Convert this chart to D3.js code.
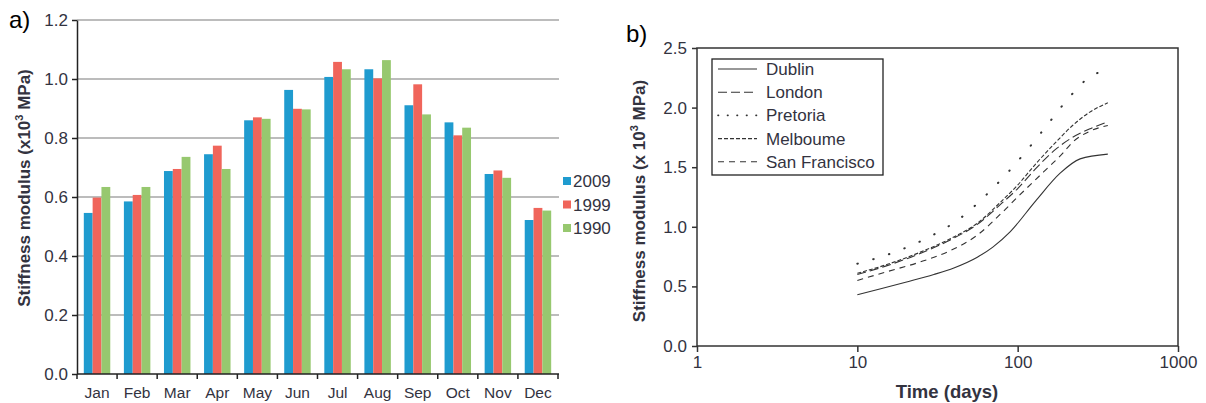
<!DOCTYPE html>
<html>
<head>
<meta charset="utf-8">
<script src="https://cdn.jsdelivr.net/npm/d3@7"></script>
<style>
  body { margin: 0; background: #fff; }
  svg text { font-family: Arial, "Liberation Sans", sans-serif; }
</style>
</head>
<body>
<svg class="chart" width="1206" height="403"></svg>
<script>
// ---- panel a data ----
const months = ["Jan", "Feb", "Mar", "Apr", "May", "Jun", "Jul", "Aug", "Sep", "Oct", "Nov", "Dec"];
const years = ["2009", "1999", "1990"];
const s2009 = [0.546, 0.585, 0.688, 0.745, 0.860, 0.963, 1.007, 1.033, 0.911, 0.853, 0.678, 0.522];
const s1999 = [0.598, 0.607, 0.695, 0.774, 0.870, 0.899, 1.058, 1.002, 0.982, 0.809, 0.690, 0.563];
const s1990 = [0.634, 0.634, 0.736, 0.695, 0.865, 0.897, 1.033, 1.064, 0.880, 0.835, 0.665, 0.554];
const yTicksA = [0, 0.2, 0.4, 0.6, 0.8, 1.0, 1.2];
const barColors = ["#1f9bcf", "#f0655b", "#97c86f"];

// ---- panel b data ----
const cities = ["Dublin", "London", "Pretoria", "Melboume", "San Francisco"];
const dublin = [[10, 0.43], [14, 0.48], [20, 0.535], [30, 0.60], [40, 0.655], [56, 0.745], [70, 0.83], [90, 0.96], [130, 1.22], [184, 1.45], [245, 1.57], [365, 1.61]];
const london = [[10, 0.60], [15, 0.67], [24, 0.77], [38, 0.89], [56, 1.02], [80, 1.20], [100, 1.32], [130, 1.49], [176, 1.66], [220, 1.75], [280, 1.82], [365, 1.88]];
const pretoria = [[10, 0.69], [16.5, 0.78], [27.6, 0.91], [43.7, 1.07], [64, 1.27], [86, 1.45], [114, 1.64], [148, 1.83], [205, 2.07], [271, 2.24], [365, 2.32]];
const melbourne = [[10, 0.61], [15, 0.68], [24, 0.78], [38, 0.90], [56, 1.03], [80, 1.22], [100, 1.35], [130, 1.53], [176, 1.72], [220, 1.85], [280, 1.96], [365, 2.04]];
const sanFrancisco = [[10, 0.55], [15, 0.62], [24, 0.70], [38, 0.80], [56, 0.93], [80, 1.12], [100, 1.25], [145, 1.46], [192, 1.62], [220, 1.71], [280, 1.80], [365, 1.85]];
const dashes = [null, "9,4", "0.5,16", "4,2", "6,5"];
const legendDashes = [null, "9,4", "0.5,9", "4,2", "6,5"];
const yTicksB = [0, 0.5, 1.0, 1.5, 2.0, 2.5];
const xTicksB = [1, 10, 100, 1000];

const svg = d3.select(".chart");
const textCol = "#33333f";
const FONT = "Arial, 'Liberation Sans', sans-serif";

// ================= panel a =================
const a = { left: 77, right: 558, top: 20, bottom: 374 };
const xA = d3.scaleBand().domain(months).range([a.left, a.right]).paddingInner(0.34).paddingOuter(0.17);
const xSub = d3.scaleBand().domain(years).range([0, xA.bandwidth()]);
const yA = d3.scaleLinear().domain([0, 1.2]).range([a.bottom, a.top]);

const gA = svg.append("g");

// gridlines
gA.selectAll("line.grid")
  .data(yTicksA.filter(d => d > 0))
  .join("line")
  .attr("x1", a.left).attr("x2", a.right + 1)
  .attr("y1", d => yA(d)).attr("y2", d => yA(d))
  .attr("stroke", "#a6a6a6").attr("stroke-width", 1.5);

// bars
const series = [s2009, s1999, s1990];
series.forEach((vals, si) => {
  gA.selectAll(null)
    .data(vals)
    .join("rect")
    .attr("x", (d, i) => xA(months[i]) + xSub(years[si]))
    .attr("y", d => yA(d))
    .attr("width", xSub.bandwidth())
    .attr("height", d => yA(0) - yA(d))
    .attr("fill", barColors[si]);
});

// y axis
const axA = gA.append("g")
  .attr("transform", `translate(${a.left},0)`)
  .call(d3.axisLeft(yA).tickValues(yTicksA).tickFormat(d3.format(".1f")).tickSize(5).tickSizeOuter(0));
axA.select(".domain").attr("stroke", "#222").attr("stroke-width", 1.5);
axA.selectAll(".tick line").attr("stroke", "#222").attr("stroke-width", 1.5);
axA.selectAll(".tick text").attr("font-size", 17).attr("fill", textCol).attr("x", -9)
  .attr("font-family", FONT);

// x axis line + ticks on band boundaries
const stepA = xA.step();
gA.append("line")
  .attr("x1", a.left).attr("x2", a.right + 1)
  .attr("y1", a.bottom).attr("y2", a.bottom)
  .attr("stroke", "#222").attr("stroke-width", 1.5);
gA.selectAll("line.xt")
  .data(d3.range(months.length + 1))
  .join("line")
  .attr("x1", i => a.left + i * stepA).attr("x2", i => a.left + i * stepA)
  .attr("y1", a.bottom).attr("y2", a.bottom + 5)
  .attr("stroke", "#222").attr("stroke-width", 1.5);
gA.selectAll("text.month")
  .data(months)
  .join("text")
  .attr("x", d => xA(d) + xA.bandwidth() / 2)
  .attr("y", 398)
  .attr("text-anchor", "middle")
  .attr("font-size", 15.5)
  .attr("fill", textCol)
  .text(d => d);

// legend
years.forEach((yr, i) => {
  const ly = 181 + i * 23.5;
  gA.append("rect").attr("x", 563).attr("y", ly - 4).attr("width", 8).attr("height", 8).attr("fill", barColors[i]);
  gA.append("text").attr("x", 573).attr("y", ly + 6).attr("font-size", 17).attr("fill", textCol).text(yr);
});

// y title
const tA = gA.append("text")
  .attr("transform", `translate(30,188) rotate(-90)`)
  .attr("text-anchor", "middle")
  .attr("font-size", 17).attr("font-weight", "bold").attr("fill", textCol);
tA.append("tspan").text("Stiffness modulus  (x10");
tA.append("tspan").attr("font-size", 11).attr("dy", -7).text("3");
tA.append("tspan").attr("dy", 7).text(" MPa)");

svg.append("text").attr("x", 9).attr("y", 28).attr("font-size", 24)
  .attr("fill", "#000").text("a)");

// ================= panel b =================
const b = { left: 697, right: 1178, top: 48, bottom: 346 };
const xB = d3.scaleLog().domain([1, 1000]).range([b.left, b.right]);
const yB = d3.scaleLinear().domain([0, 2.5]).range([b.bottom, b.top]);
const gB = svg.append("g");

// frame
gB.append("rect")
  .attr("x", b.left).attr("y", b.top)
  .attr("width", b.right - b.left).attr("height", b.bottom - b.top)
  .attr("fill", "none").attr("stroke", "#333").attr("stroke-width", 1.5);

const axBy = gB.append("g")
  .attr("transform", `translate(${b.left},0)`)
  .call(d3.axisLeft(yB).tickValues(yTicksB).tickFormat(d3.format(".1f")).tickSize(5).tickSizeOuter(0));
axBy.select(".domain").remove();
axBy.selectAll(".tick line").attr("stroke", "#333").attr("stroke-width", 1.5);
axBy.selectAll(".tick text").attr("font-size", 17).attr("fill", textCol).attr("x", -10)
  .attr("font-family", FONT);

const axBx = gB.append("g")
  .attr("transform", `translate(0,${b.bottom})`)
  .call(d3.axisBottom(xB).tickValues(xTicksB).tickFormat(d3.format("d")).tickSize(6).tickSizeOuter(0));
axBx.select(".domain").remove();
axBx.selectAll(".tick line").attr("stroke", "#333").attr("stroke-width", 1.5);
axBx.selectAll(".tick text").attr("font-size", 17).attr("fill", textCol).attr("y", 10)
  .attr("font-family", FONT);

// curves
const lineGen = d3.line().x(d => xB(d[0])).y(d => yB(d[1])).curve(d3.curveMonotoneX);
const curves = [dublin, london, pretoria, melbourne, sanFrancisco];
curves.forEach((pts, i) => {
  gB.append("path")
    .attr("d", lineGen(pts))
    .attr("fill", "none")
    .attr("stroke", "#333")
    .attr("stroke-width", i === 2 ? 2 : 1.1)
    .attr("stroke-linecap", i === 2 ? "round" : "butt")
    .attr("stroke-dasharray", dashes[i]);
});

// legend
gB.append("rect").attr("x", 712).attr("y", 59).attr("width", 171).attr("height", 116)
  .attr("fill", "#fff").attr("stroke", "#222").attr("stroke-width", 1.3);
cities.forEach((c, i) => {
  const ly = 69 + i * 23.2;
  gB.append("line").attr("x1", 718).attr("x2", 757).attr("y1", ly).attr("y2", ly)
    .attr("stroke", "#333").attr("stroke-width", i === 2 ? 1.6 : 1.1)
    .attr("stroke-linecap", i === 2 ? "round" : "butt")
    .attr("stroke-dasharray", legendDashes[i]);
  gB.append("text").attr("x", 766).attr("y", ly + 6).attr("font-size", 17).attr("fill", textCol).text(c);
});

// titles
const tB = gB.append("text")
  .attr("transform", `translate(645,201) rotate(-90)`)
  .attr("text-anchor", "middle")
  .attr("font-size", 17).attr("font-weight", "bold").attr("fill", textCol);
tB.append("tspan").text("Stiffness modulus (x 10");
tB.append("tspan").attr("font-size", 11).attr("dy", -7).text("3");
tB.append("tspan").attr("dy", 7).text(" MPa)");

gB.append("text").attr("x", 947).attr("y", 398)
  .attr("text-anchor", "middle").attr("font-size", 18.5).attr("font-weight", "bold")
  .attr("fill", textCol).text("Time (days)");

svg.append("text").attr("x", 626).attr("y", 42).attr("font-size", 24)
  .attr("fill", "#000").text("b)");
</script>
</body>
</html>
